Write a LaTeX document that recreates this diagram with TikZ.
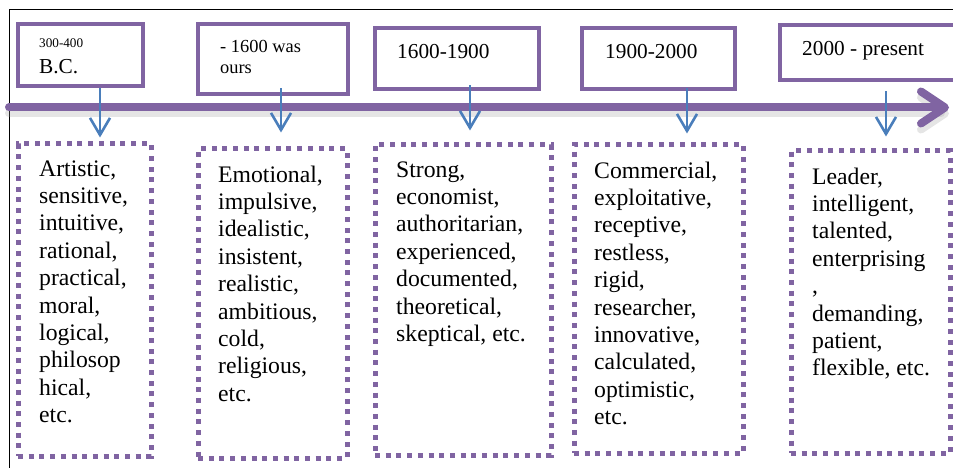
\documentclass[tikz,border=0pt]{standalone}
\usepackage{fontspec}
\setmainfont{Liberation Serif}
\usetikzlibrary{arrows.meta,positioning}
\definecolor{era}{HTML}{8064A2}
\definecolor{pointer}{HTML}{4A7EBB}
\tikzset{
  periodbox/.style={draw=era, line width=4.8pt, inner sep=0pt},
  traitbox/.style={draw=era, line width=5pt, dash pattern=on 5pt off 5.7pt, inner sep=0pt},
  periodtext/.style={anchor=base west, inner sep=0pt, align=left, font=\fontsize{21.3}{24}\selectfont},
  traittext/.style={anchor=base west, inner sep=0pt, align=left, font=\fontsize{23.7}{27.4}\selectfont},
  arr/.style={-{Straight Barb[length=17pt,width=20pt]}, line width=2.6pt, draw=pointer},
  timeline/.style={-{Straight Barb[round,length=24pt,width=32pt]}, line width=8pt, draw=era, line cap=round}
}

\begin{document}
\begin{tikzpicture}[x=1pt,y=-1pt]
    \useasboundingbox (0,0) rectangle (953,468);
    \draw[line width=1.6pt] (9.5,468) -- (9.5,9.5) -- (953,9.5);

    % timeline with its shadow
    \coordinate (tlStart) at (9,107.5);
    \coordinate (tlEnd) at (949,107.5);
    \draw[timeline, draw=black!40, opacity=0.25, transform canvas={yshift=-6pt}] (tlStart) -- (tlEnd);
    \draw[timeline] (tlStart) -- (tlEnd);

    % periods
    \node[periodbox, minimum width=125pt, minimum height=62pt] (bc) at (80.5,55) {};
    \node[periodbox, minimum width=150pt, minimum height=70pt] (pre1600) at (273,59) {};
    \node[periodbox, minimum width=164pt, minimum height=61pt] (y1600) at (457,58.5) {};
    \node[periodbox, minimum width=153pt, minimum height=61pt] (y1900) at (658.5,58.5) {};
    \node[periodbox, minimum width=185pt, minimum height=55pt] (y2000) at (872.5,52.5) {};

    % base anchor sits on the last line
    \node[periodtext, font=\fontsize{13.2}{15}\selectfont] (bcYears) at (39,48) {300-400};
    \node[periodtext] (bcText) at (39,74) {B.C.};
    \node[periodtext, font=\fontsize{18.4}{21}\selectfont] (pre1600Text) at (220,74) {- 1600 was\\ours};
    \node[periodtext] (y1600Text) at (397,59) {1600-1900};
    \node[periodtext] (y1900Text) at (605,59) {1900-2000};
    \node[periodtext] (y2000Text) at (802,56) {2000 - present};

    % traits
    \node[traitbox, minimum width=133pt, minimum height=312pt] (bcTraits) at (84.5,300) {};
    \node[traitbox, minimum width=149pt, minimum height=309pt] (pre1600Traits) at (272.5,303.5) {};
    \node[traitbox, minimum width=176pt, minimum height=310pt] (y1600Traits) at (463,300) {};
    \node[traitbox, minimum width=169pt, minimum height=308pt] (y1900Traits) at (658.5,299) {};
    \node[traitbox, minimum width=159pt, minimum height=302pt] (y2000Traits) at (870.5,302) {};

    \node[traittext] (bcList) at (39,422.6) {Artistic,\\sensitive,\\intuitive,\\rational,\\practical,\\moral,\\logical,\\philosop\\hical,\\etc.};
    \node[traittext] (pre1600List) at (218,401.2) {Emotional,\\impulsive,\\idealistic,\\insistent,\\realistic,\\ambitious,\\cold,\\religious,\\etc.};
    \node[traittext] (y1600List) at (396,341.4) {Strong,\\economist,\\authoritarian,\\experienced,\\documented,\\theoretical,\\skeptical, etc.};
    \node[traittext] (y1900List) at (594,424.6) {Commercial,\\exploitative,\\receptive,\\restless,\\rigid,\\researcher,\\innovative,\\calculated,\\optimistic,\\etc.};
    \node[traittext] (y2000List) at (812,375.8) {Leader,\\intelligent,\\talented,\\enterprising\\,\\demanding,\\patient,\\flexible, etc.};

    % pointers
    \coordinate (x1) at (100,0);
    \coordinate (x2) at (281,0);
    \coordinate (x3) at (470,0);
    \coordinate (x4) at (687,0);
    \coordinate (x5) at (886,0);
    \draw[arr, shorten >=4pt] (bc.south -| x1) -- (bcTraits.north -| x1);
    \draw[arr, shorten <=-8pt, shorten >=14pt] (pre1600.south -| x2) -- (pre1600Traits.north -| x2);
    \draw[arr, shorten <=-6pt, shorten >=12pt] (y1600.south -| x3) -- (y1600Traits.north -| x3);
    \draw[arr, shorten <=-3pt, shorten >=9pt] (y1900.south -| x4) -- (y1900Traits.north -| x4);
    \draw[arr, shorten <=9pt, shorten >=12pt] (y2000.south -| x5) -- (y2000Traits.north -| x5);
  \end{tikzpicture}
\end{document}
